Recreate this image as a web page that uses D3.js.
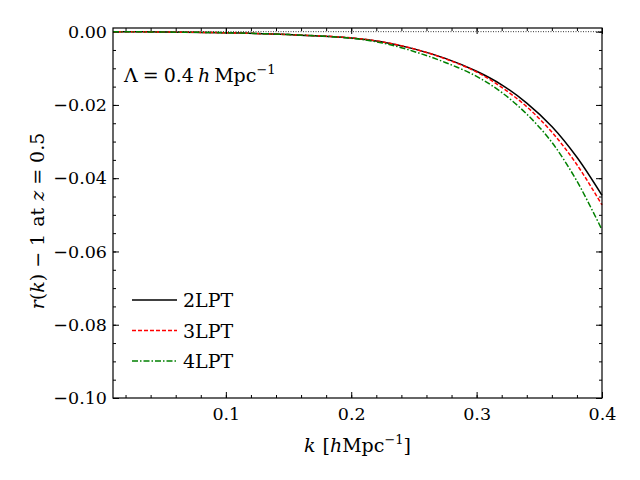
<!DOCTYPE html>
<html>
<head>
<meta charset="utf-8">
<script src="https://cdn.jsdelivr.net/npm/d3@7"></script>
<style>
  body { margin: 0; background: #fff; }
  svg text { font-family: "DejaVu Serif", serif; fill: #000; }
</style>
</head>
<body>
<script>
// data
const kValues = [0.01, 0.05, 0.1, 0.15, 0.2, 0.225, 0.25, 0.275, 0.3, 0.32, 0.34, 0.36, 0.38, 0.4];
const r2LPT = [0, -0.0001, -0.0003, -0.0008, -0.0017, -0.0028, -0.0047, -0.0073, -0.0108, -0.0145, -0.0195, -0.0259, -0.0343, -0.0447];
const r3LPT = [0, -0.0001, -0.0003, -0.0008, -0.0017, -0.0028, -0.0047, -0.0074, -0.0110, -0.0152, -0.0205, -0.0274, -0.0363, -0.0473];
const r4LPT = [0, -0.0001, -0.0003, -0.0008, -0.0018, -0.0031, -0.0054, -0.0084, -0.0122, -0.0166, -0.0225, -0.0302, -0.0408, -0.0541];
const seriesNames = ["2LPT", "3LPT", "4LPT"];
const xTicks = [0.1, 0.2, 0.3, 0.4];
const yTicks = [0, -0.02, -0.04, -0.06, -0.08, -0.10];

const W = 640, H = 480;
const margin = {left: 113, right: 38, top: 28, bottom: 82};
const width = W - margin.left - margin.right;
const height = H - margin.top - margin.bottom;
const tickFs = "17.5px";
const fs = "19px";

const svg = d3.select("body").append("svg")
    .attr("width", W)
    .attr("height", H);

const g = svg.append("g")
    .attr("transform", "translate(" + margin.left + "," + margin.top + ")");

const x = d3.scaleLinear().domain([0.01, 0.4]).range([0, width]);
const y = d3.scaleLinear().domain([-0.1, 0.001]).range([height, 0]);

const xMinor = d3.range(0.02, 0.401, 0.02);
const yMinor = d3.range(-0.1, 0.0001, 0.005);

function styleAxis(sel) {
    sel.attr("font-family", null);
    sel.select(".domain").remove();
    sel.selectAll("line").attr("stroke", "#000").attr("stroke-width", 1);
    sel.selectAll("text").attr("font-size", tickFs);
}

// bottom
g.append("g").attr("transform", "translate(0," + height + ")")
    .call(d3.axisBottom(x).tickValues(xMinor).tickSize(-3).tickFormat(""))
    .call(styleAxis);
g.append("g").attr("transform", "translate(0," + height + ")")
    .call(d3.axisBottom(x).tickValues(xTicks).tickSize(-6).tickPadding(10).tickFormat(d3.format(".1f")))
    .call(styleAxis);
// top
g.append("g")
    .call(d3.axisTop(x).tickValues(xMinor).tickSize(-3).tickFormat(""))
    .call(styleAxis);
g.append("g")
    .call(d3.axisTop(x).tickValues(xTicks).tickSize(-6).tickFormat(""))
    .call(styleAxis);
// left
g.append("g")
    .call(d3.axisLeft(y).tickValues(yMinor).tickSize(-3).tickFormat(""))
    .call(styleAxis);
g.append("g")
    .call(d3.axisLeft(y).tickValues(yTicks).tickSize(-6).tickPadding(6).tickFormat(d3.format(".2f")))
    .call(styleAxis);
// right
g.append("g").attr("transform", "translate(" + width + ",0)")
    .call(d3.axisRight(y).tickValues(yMinor).tickSize(-3).tickFormat(""))
    .call(styleAxis);
g.append("g").attr("transform", "translate(" + width + ",0)")
    .call(d3.axisRight(y).tickValues(yTicks).tickSize(-6).tickFormat(""))
    .call(styleAxis);

// zero line
g.append("line")
    .attr("x1", 0).attr("x2", width)
    .attr("y1", y(0)).attr("y2", y(0))
    .attr("stroke", "#000")
    .attr("stroke-width", 0.8)
    .attr("stroke-dasharray", "1,1.5");

const series = [
    {name: seriesNames[0], values: r2LPT, color: "#000", dash: null},
    {name: seriesNames[1], values: r3LPT, color: "#ff0000", dash: "4,2"},
    {name: seriesNames[2], values: r4LPT, color: "#008000", dash: "6,2,1.5,2"}
];

const line = d3.line()
    .x((d, i) => x(kValues[i]))
    .y(d => y(d))
    .curve(d3.curveCatmullRom.alpha(0.5));

g.selectAll("path.curve")
    .data(series)
    .enter()
    .append("path")
        .attr("class", "curve")
        .attr("d", d => line(d.values))
        .attr("fill", "none")
        .attr("stroke", d => d.color)
        .attr("stroke-width", 1.5)
        .attr("stroke-dasharray", d => d.dash);

// frame
g.append("rect")
    .attr("width", width)
    .attr("height", height)
    .attr("fill", "none")
    .attr("stroke", "#000")
    .attr("stroke-width", 1.2);

// legend
const legend = g.selectAll("g.legend")
    .data(series)
    .enter()
    .append("g")
        .attr("class", "legend")
        .attr("transform", (d, i) => "translate(19," + (272 + i * 30.5) + ")");

legend.append("line")
    .attr("x1", 0).attr("x2", 45)
    .attr("stroke", d => d.color)
    .attr("stroke-width", 1.5)
    .attr("stroke-dasharray", d => d.dash);

legend.append("text")
    .attr("x", 51)
    .attr("y", 7)
    .attr("font-size", fs)
    .text(d => d.name);

// annotation
const ann = g.append("text")
    .attr("x", 11)
    .attr("y", 54)
    .attr("font-size", fs);
ann.append("tspan").text("Λ");
ann.append("tspan").attr("dx", 5).text("=");
ann.append("tspan").attr("dx", 5).text("0.4");
ann.append("tspan").attr("dx", 4).attr("font-style", "italic").text("h");
ann.append("tspan").attr("dx", 4).text("Mpc");
ann.append("tspan").attr("font-size", "13px").attr("dy", -8).text("−1");

// axis labels
const xl = svg.append("text")
    .attr("x", margin.left + width / 2)
    .attr("y", 452)
    .attr("text-anchor", "middle")
    .attr("font-size", fs);
xl.append("tspan").attr("font-style", "italic").text("k");
xl.append("tspan").attr("dx", 7).text("[");
xl.append("tspan").attr("font-style", "italic").text("h");
xl.append("tspan").text("Mpc");
xl.append("tspan").attr("font-size", "13px").attr("dy", -8).text("−1");
xl.append("tspan").attr("dy", 8).text("]");

const yl = svg.append("text")
    .attr("transform", "translate(44," + (margin.top + height / 2 + 8) + ") rotate(-90)")
    .attr("text-anchor", "middle")
    .attr("font-size", fs);
yl.append("tspan").attr("font-style", "italic").text("r");
yl.append("tspan").text("(");
yl.append("tspan").attr("font-style", "italic").text("k");
yl.append("tspan").text(")");
yl.append("tspan").attr("dx", 6).text("−");
yl.append("tspan").attr("dx", 6).text("1");
yl.append("tspan").attr("dx", 7).text("at");
yl.append("tspan").attr("dx", 7).attr("font-style", "italic").text("z");
yl.append("tspan").attr("dx", 6).text("=");
yl.append("tspan").attr("dx", 6).text("0.5");
</script>
</body>
</html>
